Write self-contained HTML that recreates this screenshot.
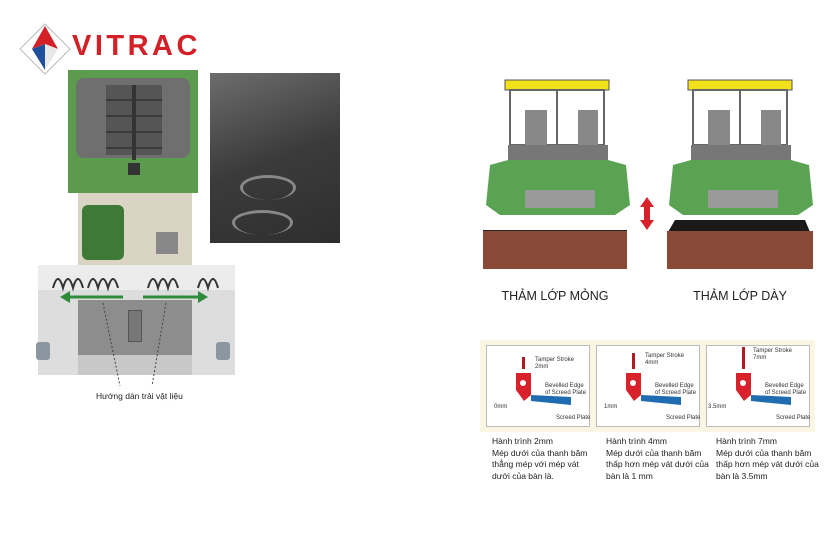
<!DOCTYPE html>
<html><head><meta charset="utf-8"><style>
body{margin:0;width:840px;height:560px;background:#fff;position:relative;overflow:hidden;font-family:"Liberation Sans",sans-serif}
.a{position:absolute}
.cap{font-size:8.5px;line-height:11.5px;color:#222}
.pl{position:absolute;background:#fff;border:1px solid #bbb;width:102px;height:80px;top:345px}
.t{position:absolute;font-size:6px;color:#333;line-height:7px}
</style></head><body>
<!-- logo -->
<svg class="a" style="left:18px;top:22px" width="55" height="55" viewBox="0 0 55 55">
<polygon points="27,2 52,27 27,52 2,27" fill="#fff" stroke="#bbb"/>
<polygon points="27,4 40,27 27,22 14,27" fill="#d42027"/>
<polygon points="14,27 27,22 27,48" fill="#1f4f9c"/>
<polygon points="27,22 40,27 27,48" fill="#e8e8e8"/>
</svg>
<div class="a" style="left:72px;top:30px;font-size:29px;font-weight:bold;color:#d42027;letter-spacing:3.5px">VITRAC</div>
<!-- left paver -->
<div class="a" style="left:68px;top:70px;width:130px;height:123px;background:#5c9a4e"></div>
<div class="a" style="left:76px;top:78px;width:114px;height:80px;background:#6f6f6f;border-radius:8px"></div>
<div class="a" style="left:106px;top:85px;width:56px;height:70px;background:repeating-linear-gradient(#555 0 14px,#3a3a3a 14px 16px)"></div>
<div class="a" style="left:132px;top:85px;width:4px;height:75px;background:#333"></div>
<div class="a" style="left:128px;top:163px;width:12px;height:12px;background:#333"></div>
<div class="a" style="left:78px;top:193px;width:114px;height:72px;background:#d9d4c3"></div>
<div class="a" style="left:82px;top:205px;width:42px;height:55px;background:#3d7a38;border-radius:6px"></div>
<div class="a" style="left:156px;top:232px;width:22px;height:22px;background:#888"></div>
<div class="a" style="left:38px;top:265px;width:197px;height:25px;background:#ececec"></div>
<div class="a" style="left:38px;top:290px;width:197px;height:85px;background:#ddd"></div>
<div class="a" style="left:78px;top:300px;width:114px;height:55px;background:#8d8d8d"></div>
<div class="a" style="left:78px;top:355px;width:114px;height:20px;background:#c8c8c8"></div>
<div class="a" style="left:128px;top:310px;width:12px;height:30px;background:#777;border:1px solid #555"></div>
<div class="a" style="left:36px;top:342px;width:14px;height:18px;background:#8a96a0;border-radius:3px"></div>
<div class="a" style="left:216px;top:342px;width:14px;height:18px;background:#8a96a0;border-radius:3px"></div>
<svg class="a" style="left:38px;top:268px" width="197" height="130">
<g stroke="#333" stroke-width="2" fill="none"><path d="M15 20 q5-18 10 0 q5-18 10 0 q5-18 10 0 M50 20 q5-18 10 0 q5-18 10 0 q5-18 10 0 M110 20 q5-18 10 0 q5-18 10 0 q5-18 10 0 M160 20 q5-18 10 0 q5-18 10 0"/></g>
<g stroke="#2e8b3a" stroke-width="3"><line x1="30" y1="29" x2="85" y2="29"/><line x1="105" y1="29" x2="160" y2="29"/></g>
<polygon points="22,29 32,23 32,35" fill="#2e8b3a"/><polygon points="170,29 160,23 160,35" fill="#2e8b3a"/>
<g stroke="#444" stroke-dasharray="2,2"><line x1="65" y1="35" x2="82" y2="118"/><line x1="128" y1="35" x2="114" y2="118"/></g>
</svg>
<div class="a" style="left:96px;top:391px;font-size:8.5px;color:#222">Hướng dàn trải vật liệu</div>
<!-- photo -->
<div class="a" style="left:210px;top:73px;width:130px;height:170px;background:linear-gradient(160deg,#6d6d6d,#3b3b3b 50%,#2e2e2e)"></div>
<div class="a" style="left:240px;top:175px;width:50px;height:22px;border-radius:50%;border:3px solid #888;border-bottom:none"></div>
<div class="a" style="left:232px;top:210px;width:55px;height:22px;border-radius:50%;border:3px solid #888;border-bottom:none"></div>
<!-- right pavers -->
<svg class="a" style="left:480px;top:75px" width="340" height="160">
<g id="p">
<rect x="25" y="5" width="104" height="10" fill="#f2e01a" stroke="#555"/>
<rect x="30" y="15" width="94" height="55" fill="#fff" stroke="#666" stroke-width="2"/>
<line x1="77" y1="15" x2="77" y2="70" stroke="#666" stroke-width="2"/>
<rect x="45" y="35" width="22" height="35" fill="#888"/><rect x="98" y="35" width="20" height="35" fill="#888"/>
<rect x="28" y="70" width="100" height="18" fill="#777"/>
<path d="M10 90 L28 85 L128 85 L146 90 L150 130 L135 140 L20 140 L6 130 Z" fill="#5aa352"/>
<rect x="45" y="115" width="70" height="18" fill="#9a9a9a"/>
</g>
<use href="#p" x="183"/>
<rect x="3" y="155" width="144" height="5" fill="#222"/>
<polygon points="195,145 325,145 330,157 188,157" fill="#1a1a1a"/>
<polygon points="167,122 160,132 164,132 164,145 160,145 167,155 174,145 170,145 170,132 174,132" fill="#d8212a"/>
</svg>
<div class="a" style="left:483px;top:231px;width:144px;height:38px;background:#8a4a38"></div>
<div class="a" style="left:667px;top:231px;width:146px;height:38px;background:#8a4a38"></div>
<div class="a" style="left:483px;top:289px;width:144px;text-align:center;font-size:12.5px;color:#222">THẢM LỚP MỎNG</div>
<div class="a" style="left:667px;top:289px;width:146px;text-align:center;font-size:12.5px;color:#222">THẢM LỚP DÀY</div>
<!-- panels -->
<div class="a" style="left:480px;top:340px;width:335px;height:92px;background:#fbf5e4"></div>
<div class="pl" style="left:486px"></div><div class="pl" style="left:596px"></div><div class="pl" style="left:706px"></div>
<svg class="a" style="left:486px;top:345px" width="330" height="82">
<g id="q"><polygon points="30,28 45,28 45,50 38,56 30,45" fill="#d8212a"/><circle cx="37" cy="38" r="3" fill="#fff"/>
<polygon points="45,50 85,52 85,60 45,56" fill="#1f6cb0"/></g>
<use href="#q" x="110"/><use href="#q" x="220"/>
<g fill="#b01c22"><rect x="36" y="12" width="3" height="12"/><rect x="146" y="8" width="3" height="16"/><rect x="256" y="2" width="3" height="22"/></g>
</svg>
<div class="t" style="left:535px;top:357px">Tamper Stroke<br>2mm</div>
<div class="t" style="left:645px;top:353px">Tamper Stroke<br>4mm</div>
<div class="t" style="left:753px;top:348px">Tamper Stroke<br>7mm</div>
<div class="t" style="left:545px;top:383px">Bevelled Edge<br>of Screed Plate</div>
<div class="t" style="left:655px;top:383px">Bevelled Edge<br>of Screed Plate</div>
<div class="t" style="left:765px;top:383px">Bevelled Edge<br>of Screed Plate</div>
<div class="t" style="left:494px;top:404px">0mm</div><div class="t" style="left:604px;top:404px">1mm</div><div class="t" style="left:708px;top:404px">3.5mm</div>
<div class="t" style="left:556px;top:415px">Screed Plate</div><div class="t" style="left:666px;top:415px">Screed Plate</div><div class="t" style="left:776px;top:415px">Screed Plate</div>
<div class="a cap" style="left:492px;top:436px">Hành trình 2mm<br>Mép dưới của thanh băm<br>thẳng mép với mép vát<br>dưới của bàn là.</div>
<div class="a cap" style="left:606px;top:436px">Hành trình 4mm<br>Mép dưới của thanh băm<br>thấp hơn mép vát dưới của<br>bàn là 1 mm</div>
<div class="a cap" style="left:716px;top:436px">Hành trình 7mm<br>Mép dưới của thanh băm<br>thấp hơn mép vát dưới của<br>bàn là 3.5mm</div>
</body></html>
